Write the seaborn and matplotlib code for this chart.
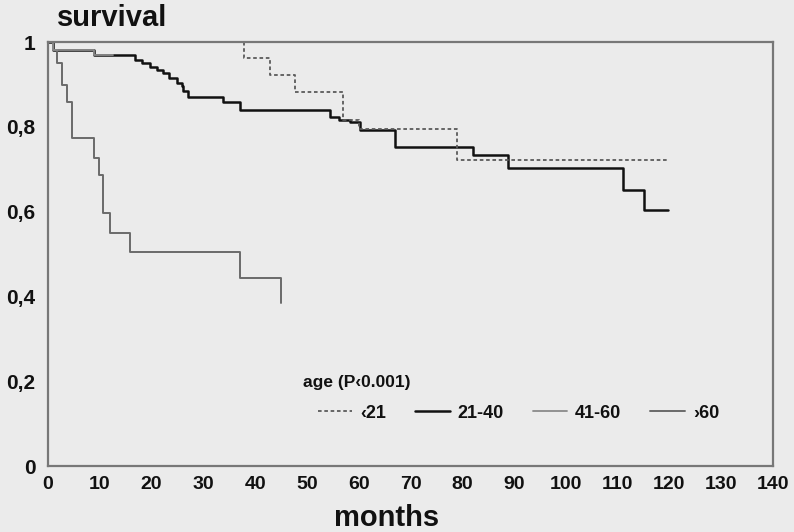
import matplotlib
matplotlib.use("Agg")
import matplotlib.pyplot as plt
import seaborn as sns
from matplotlib.lines import Line2D

# Kaplan-Meier survival by age group (months, survival fraction)
months_lt21 = [0, 37.9, 42.9, 47.7, 57.0, 60.0, 79.0, 119.5]
surv_lt21 = [1.0, 0.962, 0.922, 0.883, 0.817, 0.794, 0.722, 0.722]

months_21_40 = [0, 1.0, 8.8, 16.8, 18.1, 19.7, 21.0, 22.3, 23.3, 24.9, 25.8, 26.1,
                27.1, 33.8, 37.0, 54.5, 56.1, 58.4, 60.2, 67.0, 82.1, 88.9,
                111.1, 115.0, 119.8]
surv_21_40 = [1.0, 0.981, 0.969, 0.957, 0.950, 0.942, 0.934, 0.927, 0.915, 0.903,
              0.896, 0.884, 0.871, 0.859, 0.840, 0.824, 0.816, 0.812, 0.792,
              0.753, 0.733, 0.702, 0.652, 0.604, 0.604]

months_41_60 = [0, 1.0, 8.8, 12.6]
surv_41_60 = [1.0, 0.981, 0.969, 0.969]

months_gt60 = [0, 0.9, 1.8, 2.7, 3.7, 4.7, 8.8, 9.8, 10.7, 12.0, 15.8, 37.1, 45.0]
surv_gt60 = [1.0, 0.981, 0.950, 0.899, 0.859, 0.773, 0.726, 0.686, 0.596, 0.549,
             0.505, 0.443, 0.384]

group_labels = ["\u203921", "21-40", "41-60", "\u203a60"]
legend_title = "age (P\u20390.001)"
x_ticks = list(range(0, 141, 10))
y_ticks = [0, 0.2, 0.4, 0.6, 0.8, 1.0]
y_tick_labels = ["0", "0,2", "0,4", "0,6", "0,8", "1"]

bg = "#ebebeb"
sns.set_theme(style="white")
plt.rcParams["font.family"] = ["Liberation Sans", "DejaVu Sans"]

fig = plt.figure(figsize=(7.94, 5.32), dpi=100, facecolor=bg)
ax = fig.add_axes([48 / 794, 1 - 466 / 532, 725 / 794, 424 / 532])
ax.set_facecolor(bg)

styles = [
    dict(color="#5a5a5a", lw=1.3, ls=(0, (2.0, 1.5))),
    dict(color="#111111", lw=1.8, ls="-"),
    dict(color="#8a8a8a", lw=1.3, ls="-"),
    dict(color="#6a6a6a", lw=1.4, ls="-"),
]
series = [
    (months_lt21, surv_lt21),
    (months_21_40, surv_21_40),
    (months_41_60, surv_41_60),
    (months_gt60, surv_gt60),
]

# draw the 21-40 curve first so the lighter curves stay visible on top
for i in [1, 0, 3, 2]:
    xs, ys = series[i]
    st = styles[i]
    sns.lineplot(x=xs, y=ys, ax=ax, drawstyle="steps-post", estimator=None,
                 sort=False, color=st["color"], linewidth=st["lw"],
                 legend=False)
    ax.lines[-1].set_linestyle(st["ls"])

ax.set_xlim(0, 140)
ax.set_ylim(0, 1)
ax.set_xticks(x_ticks)
ax.set_xticklabels([str(t) for t in x_ticks])
ax.set_yticks(y_ticks)
ax.set_yticklabels(y_tick_labels)
ax.tick_params(axis="both", direction="in", length=6, width=1.2, color="#777777",
               labelcolor="#111111")
ax.tick_params(axis="x", labelsize=14, pad=7)
ax.tick_params(axis="y", labelsize=15, pad=9)
for lab in ax.get_xticklabels() + ax.get_yticklabels():
    lab.set_fontweight("bold")
for sp in ax.spines.values():
    sp.set_color("#777777")
    sp.set_linewidth(1.6)

ax.set_xlabel("")
ax.set_ylabel("")
fig.text(57 / 794, 1 - 18 / 532, "survival", fontsize=21, fontweight="bold",
         color="#111111", ha="left", va="center")
fig.text(387 / 794, 1 - 518 / 532, "months", fontsize=21, fontweight="bold",
         color="#111111", ha="center", va="center")

# legend title placed slightly left of the entries
ax.text((303 - 48) / 725, (466 - 382) / 424, legend_title, transform=ax.transAxes,
        fontsize=12.5, fontweight="bold", color="#111111", ha="left", va="center")

handles = [Line2D([], [], color=st["color"], lw=st["lw"], ls=st["ls"]) for st in styles]
leg = ax.legend(handles, group_labels, ncol=4, loc="center left",
                bbox_to_anchor=((318 - 48) / 725, (466 - 413) / 424),
                frameon=False, borderpad=0, borderaxespad=0,
                handlelength=1.9, handletextpad=0.45, columnspacing=1.6,
                prop={"weight": "bold", "size": 13})
for t in leg.get_texts():
    t.set_color("#111111")

fig.savefig("out.png", dpi=100, facecolor=bg)
